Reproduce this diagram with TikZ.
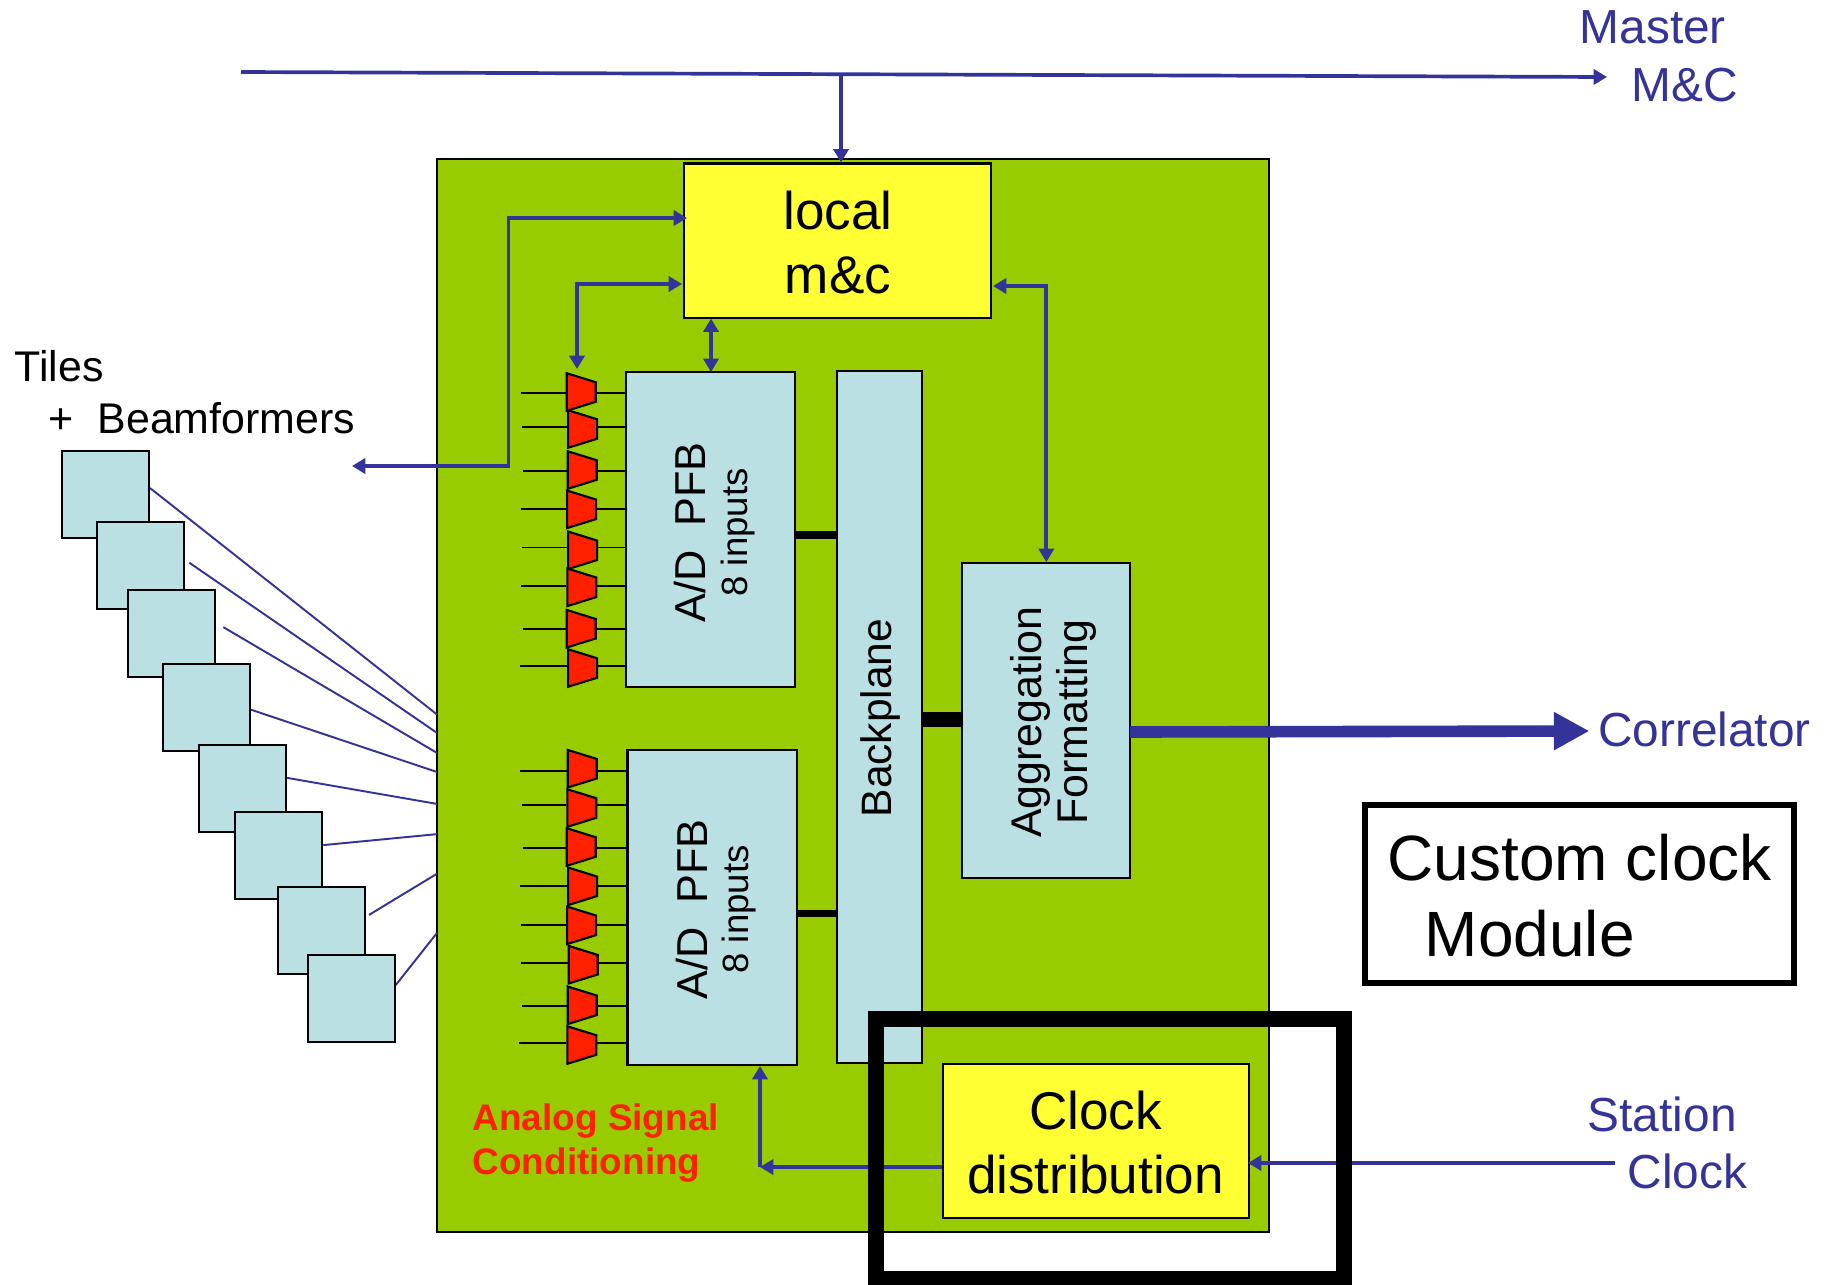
\documentclass[tikz,border=0pt]{standalone}
\usepackage{fontspec}
\setmainfont{Liberation Sans}
\usetikzlibrary{positioning,shapes.geometric,arrows.meta}
\definecolor{panelColor}{RGB}{153,204,0}
\definecolor{blockColor}{RGB}{186,224,227}
\definecolor{localColor}{RGB}{255,255,51}
\definecolor{adcColor}{RGB}{255,32,0}
\definecolor{linkColor}{RGB}{51,51,153}

\begin{document}
\begin{tikzpicture}[x=.01cm,y=-.01cm]
  	\tikzstyle{block} = [rectangle,draw=black,fill=blockColor,line width=.6pt,inner sep=0pt]
  	\tikzstyle{localblock} = [block,fill=localColor,align=center,font=\fontsize{15.1}{18.1}\selectfont]
  	\tikzstyle{adc} = [trapezium,draw=black,fill=adcColor,line width=.6pt,rotate=-90,trapezium left angle=65.2,trapezium right angle=65.2,trapezium stretches=true,minimum width=.375cm,minimum height=.29cm,inner sep=.5pt,anchor=bottom side]
  	\tikzstyle{wire} = [draw=black,line width=.5pt]
  	\tikzstyle{bus} = [draw=black,line width=2pt]
  	\tikzstyle{link} = [draw=linkColor,line width=1.05pt]
  	\tikzstyle{tileline} = [draw=linkColor,line width=.55pt]
  	\tikzstyle{caption} = [inner sep=0pt,anchor=base west,align=left]
  	\tikzstyle{vcaption} = [inner sep=0pt,anchor=base,rotate=90,align=center]
  	\tikzset{>={Triangle[length=3.8pt,width=4.3pt]}}

	  \useasboundingbox (0,0) rectangle (1824,1284);

	  \node [block,fill=panelColor,minimum width=8.32cm,minimum height=10.72cm] (panel) at (853,695.5) {};

	  % tiles and their cables
	  \foreach \i/\fx/\fy/\ty in {1/150/488/714.5,2/189.3/562.7/732.9,3/223.3/627.1/752.9,4/250.7/709.6/772,5/286.7/777.8/803.9,6/323.3/845.1/834.1,7/369/914.9/873.7,8/395.7/985.1/932.9}{
	    \coordinate (cablefrom\i) at (\fx,\fy);
	    \coordinate (cableto\i) at (437,\ty);
	    \draw [tileline] (cablefrom\i) -- (cableto\i);
	  }
	  \foreach \i/\tx/\ty in {1/61.3/450,2/95.7/520.6,3/127.3/588.8,4/162/663.1,5/198/743.9,6/234.3/811.2,7/277/885.9,8/306.7/953.6}
	    \node [block,anchor=north west,minimum width=.87cm,minimum height=.87cm] (tile\i) at (\tx,\ty) {};

	  \node [localblock,minimum width=3.06cm,minimum height=1.54cm] (local) at (837.5,240.5) {};
	  \node [block,minimum width=1.69cm,minimum height=3.15cm] (pfba) at (710.5,529.5) {};
	  \node [block,below=.61cm of pfba,xshift=.015cm,minimum width=1.69cm,minimum height=3.15cm] (pfbb) {};
	  \node [block,minimum width=.855cm,minimum height=6.91cm] (backplane) at (879.5,717) {};
	  \node [block,minimum width=1.68cm,minimum height=3.15cm] (aggr) at (1046.3,720.7) {};
	  \node [localblock,minimum width=3.06cm,minimum height=1.54cm] (clockdist) at (1095.8,1141.2) {};

	  \node [localblock,fill=none,draw=none] (locallabel) at (838,293) [anchor=base] {local\\m\&c};
	  \node [localblock,fill=none,draw=none] (clocklabel) at (1095.5,1193) [anchor=base] {Clock\\distribution};
	  \node [vcaption,font=\fontsize{10.4}{11.7}\selectfont] (pfbalabel) at (747,532.5) {{\fontsize{12.3}{11.7}\selectfont A/D\ \ PFB}\\8 inputs};
	  \node [vcaption,font=\fontsize{10.4}{11.7}\selectfont] (pfbblabel) at (748.3,909.5) {{\fontsize{12.3}{11.7}\selectfont A/D\ \ PFB}\\8 inputs};
	  \node [vcaption,font=\fontsize{12.1}{13}\selectfont] (backplanelabel) at (891.5,718) {Backplane};
	  \node [vcaption,font=\fontsize{12.2}{13.1}\selectfont] (aggrlabel) at (1087.5,722) {Aggregation\\Formatting};

	  % digitisers
	  \foreach \i/\tx/\ty/\ix/\ly in {1/565.7/392/520.7/393,2/567/429/522.3/427.3,3/566.7/470/523.3/470.7,4/566/509.3/520.7/509,5/567/550.3/522/547.5,6/566.3/587.3/521.3/585.8,7/565.7/628.7/522.7/629,8/567/668/519.7/665.7}{
	    \node [adc] (adca\i) at (\tx,\ty) {};
	    \coordinate (ina\i) at (\ix,\ly);
	    \draw [wire] (ina\i) -- (ina\i -| adca\i.bottom side);
	    \draw [wire] (ina\i -| adca\i.top side) -- (ina\i -| pfba.west);
	  }
	  \foreach \i/\tx/\ty/\ix/\ly in {1/566.7/768.7/520/770.7,2/566.3/808/521.7/805,3/565.7/847/522.7/847.7,4/567/886.3/520/886.3,5/566/925.3/521.3/925,6/567.7/964.7/520.7/963.3,7/566.7/1005.3/522/1006.3,8/566.3/1045/519/1043}{
	    \node [adc] (adcb\i) at (\tx,\ty) {};
	    \coordinate (inb\i) at (\ix,\ly);
	    \draw [wire] (inb\i) -- (inb\i -| adcb\i.bottom side);
	    \draw [wire] (inb\i -| adcb\i.top side) -- (inb\i -| pfbb.west);
	  }

	  \coordinate (busa) at (0,535);
	  \coordinate (busb) at (0,913);
	  \coordinate (busc) at (0,719.5);
	  \draw [bus] (pfba.east |- busa) -- (backplane.west |- busa);
	  \draw [bus] (pfbb.east |- busb) -- (backplane.west |- busb);
	  \draw [bus,line width=4.5pt] (backplane.east |- busc) -- (aggr.west |- busc);

	  % monitor and control links
	  \coordinate (masterfrom) at (241,72);
	  \coordinate (masterto) at (1607,77);
	  \coordinate (mastertap) at (841,75);
	  \draw [link,->] (masterfrom) -- (masterto);
	  \draw [link,->] (mastertap) -- (mastertap |- local.north);

	  \coordinate (beamtip) at (352,466);
	  \coordinate (beamcorner) at (508.5,218);
	  \coordinate (beamin) at (687,218);
	  \draw [link,<->] (beamtip) -| (beamcorner) -- (beamin);

	  \coordinate (adctip) at (577,369);
	  \coordinate (adcin) at (682,284);
	  \draw [link,<->] (adctip) |- (adcin);

	  \coordinate (pfbtap) at (711,372);
	  \draw [link,<->] (pfbtap |- local.south) -- (pfbtap);

	  \coordinate (aggrtap) at (993,286);
	  \draw [link,<->] (aggr.north) |- (aggrtap);

	  % outputs and clock
	  \coordinate (corrfrom) at (1130,732);
	  \coordinate (corrto) at (1589.4,731);
	  \draw [draw=linkColor,line width=3.3pt,-{Triangle[length=10.1pt,width=10.2pt]}] (corrfrom) -- (corrto);

	  \coordinate (stationfrom) at (1615,1163);
	  \coordinate (clockin) at (1248,1163);
	  \draw [link,->] (stationfrom) -- (clockin);

	  \coordinate (clockcorner) at (760,1167);
	  \coordinate (clocktip) at (760,1066);
	  \draw [link,->] (clockdist.west |- clockcorner) -- (clockcorner);
	  \draw [link,->] (clockcorner) -- (clocktip);

	  \node [rectangle,draw=black,line width=4.55pt,minimum width=4.68cm,minimum height=2.6cm,inner sep=0pt,anchor=north west] (modulebox) at (867.5,1011) {};
	  \node [rectangle,draw=black,line width=1.7pt,minimum width=4.29cm,minimum height=1.78cm,inner sep=0pt] (custombox) at (1579.5,894) {};

	  \node [caption,font=\fontsize{18.2}{21.6}\selectfont] (customlabel) at (1387,956) {Custom clock\\\hspace*{.37cm}Module};
	  \node [caption,text=linkColor,font=\fontsize{13.6}{16.5}\selectfont] (masterlabel) at (1579,101.5) {Master\\\hspace*{.52cm}M\&C};
	  \node [caption,text=linkColor,font=\fontsize{13.6}{16.5}\selectfont] (corrlabel) at (1597.5,746.5) {Correlator};
	  \node [caption,text=linkColor,font=\fontsize{13.6}{16}\selectfont] (stationlabel) at (1587,1188) {Station\\\hspace*{.4cm}Clock};
	  \node [caption,font=\fontsize{12.2}{14.7}\selectfont] (tileslabel) at (14,433) {Tiles\\\hspace*{.34cm}+\ \ Beamformers};
	  \node [caption,text=adcColor,font=\fontsize{10.5}{12.5}\selectfont\bfseries] (analoglabel) at (472,1174) {Analog Signal\\Conditioning};
\end{tikzpicture}
\end{document}
